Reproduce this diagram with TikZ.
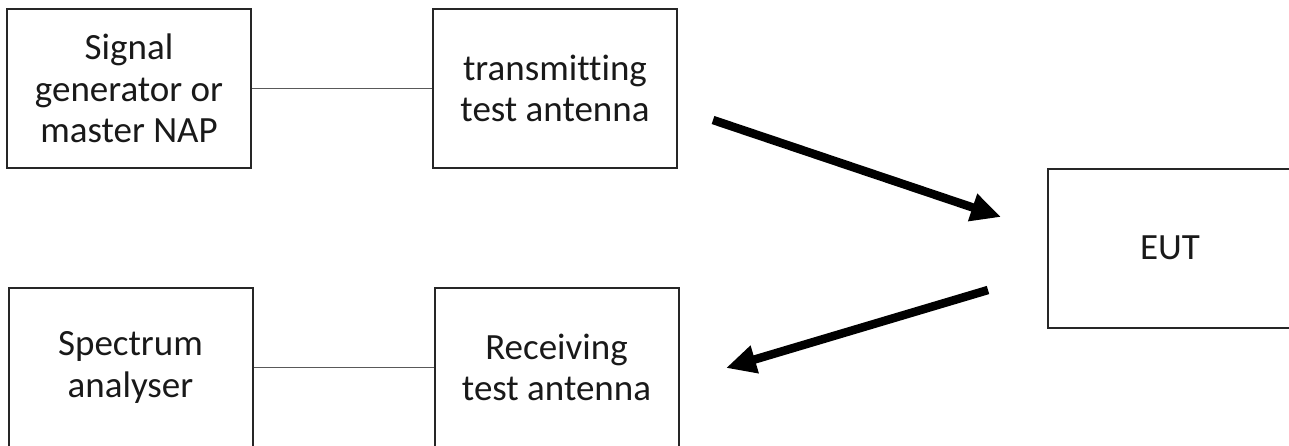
\documentclass[tikz,border=0pt]{standalone}
\usepackage{fontspec}
\setmainfont{Carlito}[RawFeature={-liga;-clig;-dlig;-calt}]
\usetikzlibrary{arrows.meta}
\begin{document}
\begin{tikzpicture}[x=1pt,y=-1pt,
  blockbox/.style={draw=black!85, line width=2pt, minimum width=244pt, minimum height=159pt,
    inner sep=0pt, align=center, font=\fontsize{37}{41.5}\selectfont, text=black!90},
  wire/.style={draw=black!65, line width=1.1pt},
  bigarrow/.style={line width=8.5pt, black, -{Triangle[length=30pt,width=27pt]}}]
\useasboundingbox (0,0) rectangle (1289,445);
\clip (0,0) rectangle (1289,445);
\node[blockbox] (sg) at (129,88.5) {Signal\\generator or\\master NAP};
\node[blockbox] (tx) at (555,88.5) {transmitting\\test antenna};
\node[blockbox] (eut) at (1170,248) {EUT};
\node[blockbox] (sa) at (130.5,367.5) {Spectrum\\analyser};
\node[blockbox] (rx) at (556.5,367.5) {Receiving\\test antenna};
\draw[wire] (sg.east) -- (tx.west);
\draw[wire] (sa.east) -- (rx.west);
\coordinate (a1s) at (713,120);
\coordinate (a1e) at (1001,217);
\coordinate (a2s) at (988,290);
\coordinate (a2e) at (726,368);
\draw[bigarrow] (a1s) -- (a1e);
\draw[bigarrow] (a2s) -- (a2e);
\end{tikzpicture}
\end{document}
